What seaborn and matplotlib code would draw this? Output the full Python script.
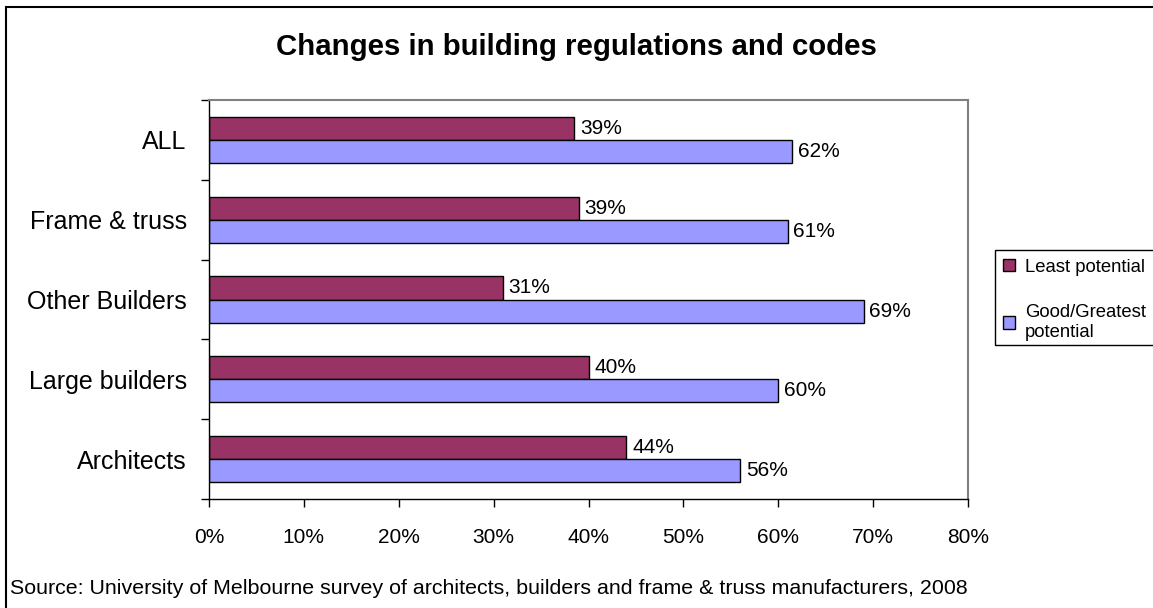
import matplotlib
matplotlib.use("Agg")
import matplotlib.pyplot as plt
import seaborn as sns
import pandas as pd
import numpy as np
from matplotlib.patches import Rectangle, Patch
from matplotlib.ticker import FixedLocator, FuncFormatter

# ---- data ----
categories = ["ALL", "Frame & truss", "Other Builders", "Large builders", "Architects"]
series = ["Least potential", "Good/Greatest potential"]
least = [38.5, 39.0, 31.0, 40.0, 44.0]
good = [61.5, 61.0, 69.0, 60.0, 56.0]
legend_labels = ["Least potential", "Good/Greatest\npotential"]
x_ticks = [0, 10, 20, 30, 40, 50, 60, 70, 80]
title = "Changes in building regulations and codes"
source = "Source: University of Melbourne survey of architects, builders and frame & truss manufacturers, 2008"

colors = ["#993366", "#9999FF"]

df = pd.DataFrame({
    "category": categories * 2,
    "series": [series[0]] * len(categories) + [series[1]] * len(categories),
    "value": least + good,
})

sns.set_theme(style="white")
plt.rcParams["font.family"] = ["Liberation Sans", "DejaVu Sans"]
plt.rcParams["text.color"] = "black"
plt.rcParams["xtick.color"] = "black"
plt.rcParams["ytick.color"] = "black"
plt.rcParams["axes.labelcolor"] = "black"

W, H = 1153, 608
fig = plt.figure(figsize=(W / 100, H / 100), dpi=100)
ax = fig.add_axes([209 / W, 1 - 499 / H, (968 - 209) / W, (499 - 100) / H])

sns.barplot(data=df, y="category", x="value", hue="series", order=categories,
            hue_order=series, palette=colors, orient="h", width=0.58,
            edgecolor="black", linewidth=1.0, saturation=1, legend=False, ax=ax)

for cont in ax.containers:
    vals = [r.get_width() for r in cont]
    ax.bar_label(cont, labels=[f"{int(v + 0.5)}%" for v in vals], padding=4,
                 fontsize=15, color="black")

ax.set_xlim(0, 80)
ax.set_ylim(len(categories) - 0.5, -0.5)
ax.set_xlabel("")
ax.set_ylabel("")
ax.xaxis.set_major_locator(FixedLocator(x_ticks))
ax.xaxis.set_major_formatter(FuncFormatter(lambda v, p: f"{int(v)}%"))
ax.tick_params(axis="x", which="major", direction="out", length=6, width=1,
               color="black", labelcolor="black", labelsize=15, pad=15, bottom=True)
ax.set_yticks(range(len(categories)))
ax.set_yticklabels(categories)
ax.set_yticks(np.arange(-0.5, len(categories), 1.0), minor=True)
ax.tick_params(axis="y", which="major", length=0, labelsize=18, pad=16,
               labelcolor="black", left=True)
ax.tick_params(axis="y", which="minor", direction="out", length=6, width=1,
               color="black", left=True)

for s in ["left", "bottom"]:
    ax.spines[s].set_color("black")
    ax.spines[s].set_linewidth(1.0)
for s in ["top", "right"]:
    ax.spines[s].set_color("#808080")
    ax.spines[s].set_linewidth(1.5)
ax.grid(False)

fig.text(0.5, 1 - 47 / H, title, ha="center", va="center", fontsize=21.2,
         fontweight="bold", color="black")
fig.text(10 / W, 1 - 589 / H, source, ha="left", va="center", fontsize=15.4,
         color="black")

# outer chart border (left and top visible)
fig.patches.append(Rectangle((6 / W, -0.1), 1.1, 1 - 7 / H + 0.1, transform=fig.transFigure,
                             fill=False, edgecolor="black", linewidth=1.5))

# legend frame
fig.patches.append(Rectangle((995 / W, 1 - 345 / H), 0.2, 95 / H, transform=fig.transFigure,
                             fill=False, edgecolor="black", linewidth=1.0))
handles = [Patch(facecolor=c, edgecolor="black", linewidth=1.0) for c in colors]
fig.legend(handles, legend_labels, loc="upper left",
           bbox_to_anchor=(999 / W, 1 - 255 / H), frameon=False, fontsize=13.3,
           handlelength=0.65, handleheight=0.65, handletextpad=0.55,
           labelspacing=1.55, borderpad=0.2, borderaxespad=0, labelcolor="black")

fig.savefig("out.png", dpi=100)
